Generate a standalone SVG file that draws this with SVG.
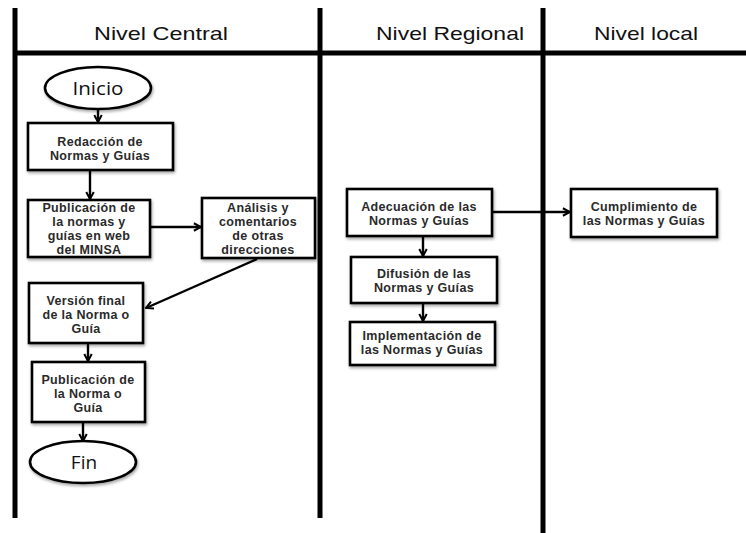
<svg xmlns="http://www.w3.org/2000/svg" width="746" height="533" viewBox="0 0 746 533">
  <style>
    .lane { stroke: #000; stroke-width: 5; fill: none; }
    .head { font-family: "Liberation Sans", Arial, sans-serif; font-size: 19px; fill: #111; text-anchor: middle; }
    .box { fill: #fff; stroke: #000; stroke-width: 2.6; filter: url(#shadow); }
    .lbl { font-family: "Liberation Sans", Arial, sans-serif; font-size: 12.5px; font-weight: bold; letter-spacing: 0.35px; fill: #2a2a2a; text-anchor: middle; }
    .term { font-family: "Open Sans", "DejaVu Sans", sans-serif; font-size: 19px; fill: #111; text-anchor: middle; }
    .conn { stroke: #000; stroke-width: 2.4; fill: none; marker-end: url(#arrow); }
  </style>
  <defs>
    <filter id="shadow" x="-10%" y="-10%" width="130%" height="140%">
      <feGaussianBlur in="SourceAlpha" stdDeviation="1.5"/>
      <feOffset dx="1" dy="2" result="b"/>
      <feComponentTransfer><feFuncA type="linear" slope="0.35"/></feComponentTransfer>
      <feMerge><feMergeNode/><feMergeNode in="SourceGraphic"/></feMerge>
    </filter>
    <marker id="arrow" viewBox="0 0 12 12" refX="10.5" refY="6" markerWidth="10" markerHeight="10" orient="auto" markerUnits="userSpaceOnUse">
      <path d="M2,1.5 L10.5,6 L2,10.5" fill="none" stroke="#000" stroke-width="2.4"/>
    </marker>
  </defs>

  <rect width="746" height="533" fill="#fff"/>

  <!-- swimlane frame -->
  <g id="lanes">
    <line class="lane" x1="15" y1="53" x2="746" y2="53" stroke-width="4"/>
    <line class="lane" x1="15" y1="8" x2="15" y2="518"/>
    <line class="lane" x1="320" y1="8" x2="320" y2="518"/>
    <line class="lane" x1="543" y1="8" x2="543" y2="533"/>
    <text class="head" x="161" y="40" textLength="134" lengthAdjust="spacingAndGlyphs">Nivel Central</text>
    <text class="head" x="450" y="40" textLength="148" lengthAdjust="spacingAndGlyphs">Nivel Regional</text>
    <text class="head" x="646" y="40" textLength="104" lengthAdjust="spacingAndGlyphs">Nivel local</text>
  </g>

  <!-- connectors -->
  <g id="connectors">
    <line class="conn" x1="98" y1="110" x2="98" y2="122"/>
    <line class="conn" x1="90" y1="171" x2="90" y2="199"/>
    <line class="conn" x1="151" y1="227" x2="201" y2="227"/>
    <line class="conn" x1="257" y1="259" x2="146" y2="308"/>
    <line class="conn" x1="88" y1="344" x2="88" y2="361"/>
    <line class="conn" x1="83" y1="423" x2="83" y2="441"/>
    <line class="conn" x1="493" y1="212" x2="570" y2="212"/>
    <line class="conn" x1="423" y1="237" x2="423" y2="256"/>
    <line class="conn" x1="423" y1="304" x2="423" y2="321"/>
  </g>

  <g id="inicio">
    <ellipse cx="98" cy="88" rx="53" ry="21" fill="#fff" stroke="#000" stroke-width="2.6" filter="url(#shadow)"/>
    <text class="term" x="98" y="95" textLength="51" lengthAdjust="spacingAndGlyphs">Inicio</text>
  </g>

  <g id="redaccion">
    <rect class="box" x="28" y="123" width="145" height="47"/>
    <text class="lbl" x="100" y="146">Redacción de</text>
    <text class="lbl" x="100" y="160">Normas y Guías</text>
  </g>

  <g id="publicacion-web">
    <rect class="box" x="28" y="200" width="122" height="57"/>
    <text class="lbl" x="89" y="212">Publicación de</text>
    <text class="lbl" x="89" y="226">la normas y</text>
    <text class="lbl" x="89" y="240">guías en web</text>
    <text class="lbl" x="89" y="254">del MINSA</text>
  </g>

  <g id="analisis">
    <rect class="box" x="202" y="198" width="113" height="60"/>
    <text class="lbl" x="258" y="212">Análisis y</text>
    <text class="lbl" x="258" y="226">comentarios</text>
    <text class="lbl" x="258" y="240">de otras</text>
    <text class="lbl" x="258" y="254">direcciones</text>
  </g>

  <g id="version-final">
    <rect class="box" x="29" y="283" width="114" height="60"/>
    <text class="lbl" x="86" y="305">Versión final</text>
    <text class="lbl" x="86" y="319">de la Norma o</text>
    <text class="lbl" x="86" y="333">Guía</text>
  </g>

  <g id="publicacion-norma">
    <rect class="box" x="32" y="362" width="113" height="60"/>
    <text class="lbl" x="88" y="384">Publicación de</text>
    <text class="lbl" x="88" y="398">la Norma o</text>
    <text class="lbl" x="88" y="412">Guía</text>
  </g>

  <g id="fin">
    <ellipse cx="83" cy="462" rx="53" ry="21" fill="#fff" stroke="#000" stroke-width="2.6" filter="url(#shadow)"/>
    <text class="term" x="84" y="469">Fin</text>
  </g>

  <g id="adecuacion">
    <rect class="box" x="347" y="189" width="145" height="47"/>
    <text class="lbl" x="419" y="211">Adecuación de las</text>
    <text class="lbl" x="419" y="225">Normas y Guías</text>
  </g>

  <g id="difusion">
    <rect class="box" x="351" y="257" width="146" height="46"/>
    <text class="lbl" x="424" y="278">Difusión de las</text>
    <text class="lbl" x="424" y="292">Normas y Guías</text>
  </g>

  <g id="implementacion">
    <rect class="box" x="350" y="322" width="145" height="43"/>
    <text class="lbl" x="422" y="340">Implementación de</text>
    <text class="lbl" x="422" y="354">las Normas y Guías</text>
  </g>

  <g id="cumplimiento">
    <rect class="box" x="571" y="189" width="146" height="48"/>
    <text class="lbl" x="644" y="211">Cumplimiento de</text>
    <text class="lbl" x="644" y="225">las Normas y Guías</text>
  </g>
</svg>
